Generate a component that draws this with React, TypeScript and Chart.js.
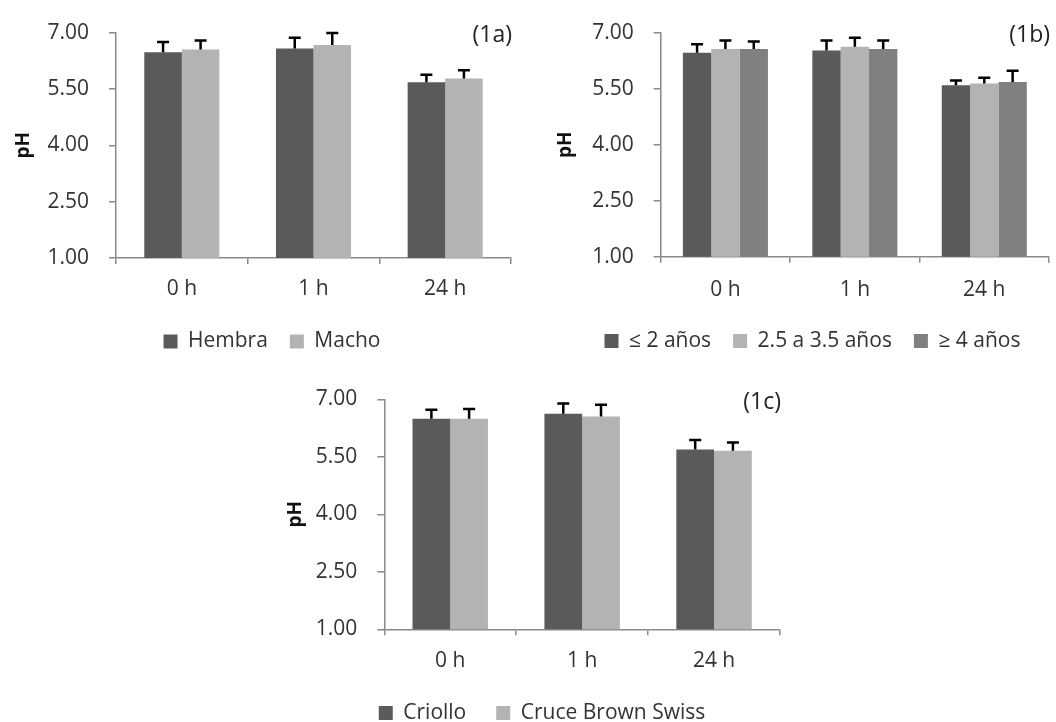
import React, { useEffect, useRef } from "react";
import { Chart, registerables } from "chart.js";

Chart.register(...registerables);

// ---------- data ----------
const CATEGORIES = ["0 h", "1 h", "24 h"];
const Y_MIN = 1;
const Y_MAX = 7;
const Y_STEP = 1.5;

const SEX_LABELS = ["Hembra", "Macho"];
const HEMBRA = [6.48, 6.58, 5.68];
const HEMBRA_ERR = [0.27, 0.28, 0.2];
const MACHO = [6.55, 6.67, 5.78];
const MACHO_ERR = [0.24, 0.32, 0.22];

const AGE_LABELS = ["≤ 2 años", "2.5 a 3.5 años", "≥ 4 años"];
const AGE_LE2 = [6.46, 6.52, 5.59];
const AGE_LE2_ERR = [0.23, 0.27, 0.13];
const AGE_MID = [6.56, 6.62, 5.64];
const AGE_MID_ERR = [0.23, 0.24, 0.15];
const AGE_GE4 = [6.56, 6.56, 5.68];
const AGE_GE4_ERR = [0.2, 0.23, 0.3];

const BREED_LABELS = ["Criollo", "Cruce Brown Swiss"];
const CRIOLLO = [6.49, 6.62, 5.69];
const CRIOLLO_ERR = [0.24, 0.27, 0.25];
const CRUCE = [6.49, 6.55, 5.66];
const CRUCE_ERR = [0.26, 0.31, 0.21];

// ---------- styles ----------
const DARK = "#5a5a5a";
const LIGHT = "#b3b3b3";
const MID = "#808080";
const AXIS = "#8a8a8a";
const TEXT = "#333333";
const FONT = "'Open Sans', 'Noto Sans', sans-serif";
const TICK_SIZE = 21;
const TITLE_SIZE = 19;
const TAG_SIZE = 23;

const errorBars = {
  id: "errorBars",
  afterDatasetsDraw(chart: any) {
    const ctx = chart.ctx;
    const y = chart.scales.y;
    chart.data.datasets.forEach((ds: any, i: number) => {
      const meta = chart.getDatasetMeta(i);
      if (meta.hidden) return;
      meta.data.forEach((el: any, j: number) => {
        const v = ds.data[j];
        const e = ds.errors[j];
        const yT = y.getPixelForValue(v + e);
        ctx.save();
        ctx.strokeStyle = "#000";
        ctx.lineWidth = 2.5;
        ctx.beginPath();
        ctx.moveTo(el.x, el.y);
        ctx.lineTo(el.x, yT);
        ctx.moveTo(el.x - 6, yT);
        ctx.lineTo(el.x + 6, yT);
        ctx.stroke();
        ctx.restore();
      });
    });
  },
};

const panelTag = {
  id: "panelTag",
  afterDraw(chart: any, _args: any, opts: any) {
    if (!opts || !opts.text) return;
    const ctx = chart.ctx;
    const a = chart.chartArea;
    ctx.save();
    ctx.font = `${TAG_SIZE}px ${FONT}`;
    ctx.fillStyle = "#222";
    ctx.textAlign = "right";
    ctx.textBaseline = "middle";
    ctx.fillText(opts.text, a.right + 1, a.top + 3);
    ctx.restore();
  },
};

type Geo = {
  left: number;
  top: number;
  width: number;
  height: number;
  plotLeft: number;
  plotRight: number;
  plotTop: number;
  plotBottom: number;
  legendCenterX: number;
  legendCenterY: number;
  xLabelCenterY: number;
  titleCenterX: number;
  legendPad: number;
  catPct: number;
};

function buildConfig(geo: Geo, datasets: any[], tag: string) {
  const pl = 2 * geo.legendCenterX - geo.plotRight;
  const pr = geo.width - geo.plotRight;
  const yWidth = geo.plotLeft - pl;
  const titlePadTop = geo.titleCenterX - pl - (TITLE_SIZE * 1.2) / 2;
  const itemH = TICK_SIZE;
  const legendH = itemH + geo.legendPad + 10;
  const legendTop = geo.legendCenterY - geo.legendPad - itemH / 2;
  const xH = legendTop - geo.plotBottom;
  const pb = geo.height - legendTop - legendH;
  const xPad = geo.xLabelCenterY - geo.plotBottom - 6 - (TICK_SIZE * 1.2) / 2;

  return {
    type: "bar",
    data: {
      labels: CATEGORIES,
      datasets: datasets.map((d) => ({
        ...d,
        borderWidth: 0,
        categoryPercentage: geo.catPct,
        barPercentage: 1,
      })),
    },
    options: {
      responsive: false,
      animation: false,
      events: [],
      devicePixelRatio: 1,
      layout: { padding: { left: pl, right: pr, top: geo.plotTop, bottom: pb } },
      plugins: {
        tooltip: { enabled: false },
        legend: {
          display: true,
          position: "bottom",
          labels: {
            boxWidth: 14,
            boxHeight: 14,
            padding: geo.legendPad,
            color: TEXT,
            font: { family: FONT, size: TICK_SIZE },
          },
        },
        panelTag: { text: tag },
      },
      scales: {
        x: {
          afterFit: (s: any) => {
            s.height = xH;
          },
          grid: {
            display: true,
            drawOnChartArea: false,
            drawTicks: true,
            tickLength: 6,
            color: AXIS,
            lineWidth: 1.5,
            offset: true,
          },
          border: { display: true, color: AXIS, width: 1.5 },
          ticks: {
            padding: xPad,
            color: TEXT,
            font: { family: FONT, size: TICK_SIZE },
          },
        },
        y: {
          min: Y_MIN,
          max: Y_MAX,
          afterFit: (s: any) => {
            s.width = yWidth;
          },
          grid: {
            display: true,
            drawOnChartArea: false,
            drawTicks: true,
            tickLength: 7,
            color: AXIS,
            lineWidth: 1.5,
          },
          border: { display: true, color: AXIS, width: 1.5 },
          ticks: {
            stepSize: Y_STEP,
            padding: 20,
            color: TEXT,
            font: { family: FONT, size: TICK_SIZE },
            callback: (v: any) => Number(v).toFixed(2),
          },
          title: {
            display: true,
            text: "pH",
            color: "#111",
            font: { family: FONT, size: TITLE_SIZE, weight: "bold" },
            padding: { top: titlePadTop, bottom: 0 },
          },
        },
      },
    },
    plugins: [errorBars, panelTag],
  };
}

const GEO_A: Geo = {
  left: 0, top: 0, width: 544, height: 362,
  plotLeft: 116, plotRight: 511, plotTop: 27, plotBottom: 258,
  legendCenterX: 272, legendCenterY: 341.5, xLabelCenterY: 289.5,
  titleCenterX: 23.5, legendPad: 22, catPct: 0.57,
};
const GEO_B: Geo = {
  left: 540, top: 0, width: 516, height: 362,
  plotLeft: 120.7, plotRight: 509, plotTop: 27, plotBottom: 256.7,
  legendCenterX: 272.5, legendCenterY: 341, xLabelCenterY: 290,
  titleCenterX: 25.5, legendPad: 22, catPct: 0.657,
};
const GEO_C: Geo = {
  left: 270, top: 350, width: 520, height: 385,
  plotLeft: 114.3, plotRight: 510, plotTop: 49.3, plotBottom: 279.3,
  legendCenterX: 272, legendCenterY: 363, xLabelCenterY: 310.7,
  titleCenterX: 25.5, legendPad: 30, catPct: 0.572,
};

function Panel({ geo, datasets, tag }: { geo: Geo; datasets: any[]; tag: string }) {
  const ref = useRef<HTMLCanvasElement | null>(null);
  useEffect(() => {
    if (!ref.current) return;
    const chart = new Chart(ref.current, buildConfig(geo, datasets, tag) as any);
    return () => chart.destroy();
  }, []);
  return (
    <canvas
      ref={ref}
      width={geo.width}
      height={geo.height}
      style={{
        position: "absolute",
        left: geo.left,
        top: geo.top,
        width: geo.width,
        height: geo.height,
      }}
    />
  );
}

export default function App() {
  const dsA = [
    { label: SEX_LABELS[0], data: HEMBRA, errors: HEMBRA_ERR, backgroundColor: DARK },
    { label: SEX_LABELS[1], data: MACHO, errors: MACHO_ERR, backgroundColor: LIGHT },
  ];
  const dsB = [
    { label: AGE_LABELS[0], data: AGE_LE2, errors: AGE_LE2_ERR, backgroundColor: DARK },
    { label: AGE_LABELS[1], data: AGE_MID, errors: AGE_MID_ERR, backgroundColor: LIGHT },
    { label: AGE_LABELS[2], data: AGE_GE4, errors: AGE_GE4_ERR, backgroundColor: MID },
  ];
  const dsC = [
    { label: BREED_LABELS[0], data: CRIOLLO, errors: CRIOLLO_ERR, backgroundColor: DARK },
    { label: BREED_LABELS[1], data: CRUCE, errors: CRUCE_ERR, backgroundColor: LIGHT },
  ];
  return (
    <div
      style={{
        position: "fixed",
        left: 0,
        top: 0,
        width: 1056,
        height: 722,
        overflow: "hidden",
        background: "#fff",
      }}
    >
      <Panel geo={GEO_A} datasets={dsA} tag="(1a)" />
      <Panel geo={GEO_B} datasets={dsB} tag="(1b)" />
      <Panel geo={GEO_C} datasets={dsC} tag="(1c)" />
    </div>
  );
}
